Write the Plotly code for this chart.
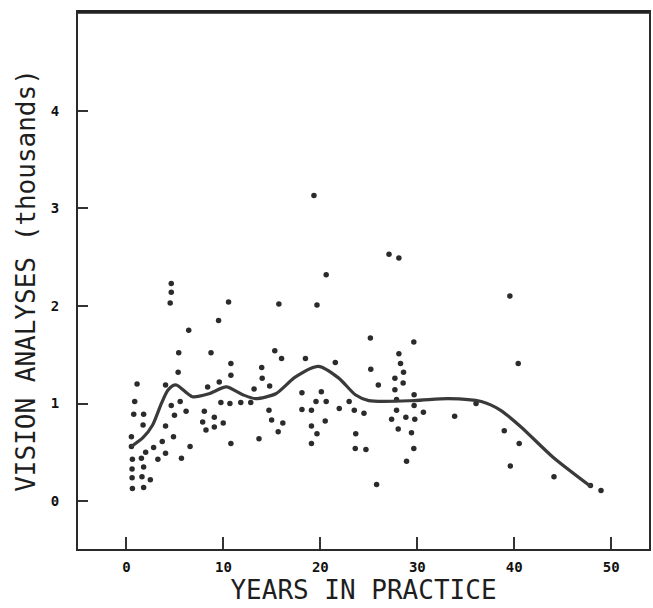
import plotly.graph_objects as go

# Scatter data: years in practice vs vision analyses (thousands)
years = [1.09, 0.85, 0.75, 1.77, 1.71, 0.51, 0.61, 1.54, 1.98, 2.8, 3.24, 4.03, 3.69, 4.85, 4.03,
         4.62, 4.95, 5.54, 6.15, 5.33, 5.39, 4.03, 0.58, 1.77, 0.58, 1.6, 2.46, 0.61, 1.77, 5.67,
         6.56, 8.03, 7.86, 8.2, 9.06, 9.06, 9.98, 9.57, 8.37, 8.72, 10.77, 10.77, 9.74, 10.67, 11.79,
         12.82, 13.16, 13.95, 14.0, 14.77, 15.3, 16.0, 14.7, 14.97, 16.13, 15.65, 13.67, 10.77, 18.1,
         18.46, 18.1, 19.08, 19.55, 20.1, 20.6, 20.5, 19.08, 19.65, 19.08, 21.54, 21.95, 22.97, 23.5,
         24.5, 23.65, 23.6, 24.7, 25.2, 25.8, 19.34, 20.6, 4.62, 4.62, 4.51, 10.53, 15.72, 19.65,
         9.5, 6.42, 25.16, 27.08, 28.1, 39.55, 40.41, 29.64, 28.1, 28.27, 28.58, 27.69, 28.54, 25.98,
         27.69, 29.67, 27.86, 29.67, 27.86, 30.63, 33.85, 36.06, 27.35, 28.82, 29.74, 28.03, 29.4,
         29.64, 28.89, 38.97, 40.51, 39.59, 44.1, 47.86, 48.95, 0.51]
analyses = [1.20, 1.02, 0.89, 0.89, 0.78, 0.66, 0.43, 0.44, 0.50, 0.55, 0.43, 0.49, 0.61, 0.66, 0.77,
            0.98, 0.88, 1.02, 0.92, 1.32, 1.52, 1.19, 0.33, 0.35, 0.24, 0.25, 0.22, 0.13, 0.14, 0.44,
            0.56, 0.92, 0.81, 0.73, 0.86, 0.76, 0.80, 1.22, 1.17, 1.52, 1.41, 1.29, 1.01, 1.00, 1.01,
            1.01, 1.15, 1.37, 1.26, 1.18, 1.54, 1.46, 0.93, 0.83, 0.80, 0.71, 0.64, 0.59, 1.11,
            1.46, 0.94, 0.93, 1.02, 1.12, 1.02, 0.82, 0.77, 0.69, 0.59, 1.42, 0.95, 1.02, 0.93,
            0.90, 0.69, 0.54, 0.53, 1.35, 0.17, 3.13, 2.32, 2.23, 2.14, 2.03, 2.04, 2.02, 2.01,
            1.85, 1.75, 1.67, 2.53, 2.49, 2.10, 1.41, 1.63, 1.51, 1.41, 1.32, 1.26, 1.21, 1.19,
            1.14, 1.09, 1.04, 0.98, 0.93, 0.91, 0.87, 1.00, 0.84, 0.86, 0.84, 0.74, 0.70,
            0.54, 0.41, 0.72, 0.59, 0.36, 0.25, 0.16, 0.11, 0.56]

# Smoothed trend curve
curve_years = [0.5, 1.7, 2.7, 3.6, 4.3, 5.1, 6.8, 8.5, 10.3, 12.0, 13.3, 15.4, 17.4, 19.8, 21.9,
               23.6, 25.0, 29.7, 33.2, 36.6, 38.6, 40.7, 44.0, 47.9]
curve_analyses = [0.56, 0.65, 0.78, 1.0, 1.14, 1.19, 1.07, 1.10, 1.17, 1.09, 1.05, 1.10, 1.27, 1.38,
                  1.26, 1.09, 1.03, 1.03, 1.05, 1.02, 0.93, 0.76, 0.45, 0.15]

x_ticks = [0, 10, 20, 30, 40, 50]
y_ticks = [0, 1, 2, 3, 4]

fig = go.Figure()
fig.add_trace(go.Scatter(
    x=years, y=analyses, mode="markers",
    marker=dict(size=5.5, color="#2b2b2b"),
    showlegend=False,
))
fig.add_trace(go.Scatter(
    x=curve_years, y=curve_analyses, mode="lines",
    line=dict(color="#3a3a3a", width=3.2, shape="spline", smoothing=0.7),
    showlegend=False,
))

tickfont = dict(family="DejaVu Sans Mono", size=14, color="#111111")
titlefont = dict(family="DejaVu Sans Mono", size=26, color="#1e1e1e")

fig.update_layout(
    width=653, height=608,
    margin=dict(l=78, r=2, t=12, b=59),
    paper_bgcolor="white", plot_bgcolor="white",
    xaxis=dict(
        range=[-5.0, 53.9], tickvals=x_ticks, ticktext=[f"<b>{v}</b>" for v in x_ticks],
        ticks="inside", ticklen=12, tickwidth=2, tickcolor="#333333",
        showline=True, linewidth=2, linecolor="#2a2a2a", mirror=True,
        showgrid=False, zeroline=False, tickfont=tickfont, ticklabelstandoff=4,
        title=dict(text="YEARS IN PRACTICE", font=titlefont, standoff=0),
    ),
    yaxis=dict(
        range=[-0.49, 5.01], tickvals=y_ticks, ticktext=[f"<b>{v}</b>" for v in y_ticks],
        ticks="inside", ticklen=10, tickwidth=2, tickcolor="#333333",
        showline=True, linewidth=2, linecolor="#2a2a2a", mirror=True,
        showgrid=False, zeroline=False, tickfont=tickfont, ticklabelstandoff=14,
        title=dict(text="VISION ANALYSES (thousands)", font=titlefont, standoff=8),
    ),
    shapes=[dict(type="line", xref="paper", yref="paper", x0=0, x1=1, y0=1, y1=1,
                 line=dict(color="#222222", width=3.5))],
)

fig.write_html("out.html")
